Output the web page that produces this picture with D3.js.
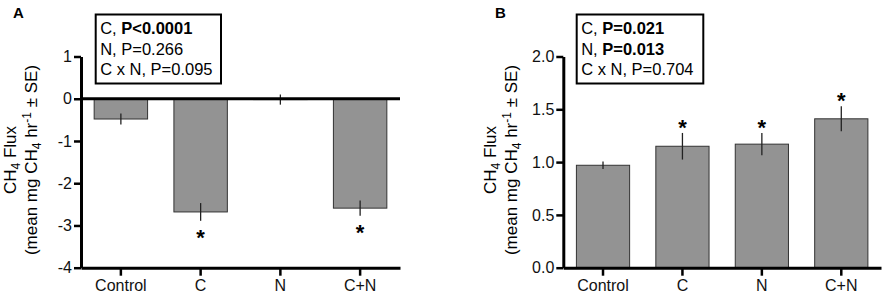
<!DOCTYPE html>
<html>
<head>
<meta charset="utf-8">
<script src="https://cdn.jsdelivr.net/npm/d3@7"></script>
<style>
  body { margin: 0; background: #fff; }
  svg { display: block; font-family: "Liberation Sans", Arial, sans-serif; }
</style>
</head>
<body>
<svg id="chart" width="885" height="296"></svg>
<script>
// treatments, shared by both panels
const groups = ["Control", "C", "N", "C+N"]

// panel A: soil CH4 flux
const fluxA = [-0.48, -2.68, -0.02, -2.59]
const seA = [0.13, 0.21, 0.12, 0.18]
const starA = [false, true, false, true]
const ticksA = [1, 0, -1, -2, -3, -4]
const statsA = [
    ["C, ", "P<0.0001"],
    ["N, P=0.266", ""],
    ["C x N, P=0.095", ""],
]

// panel B
const fluxB = [0.97, 1.15, 1.17, 1.41]
const seB = [0.036, 0.126, 0.106, 0.118]
const starB = [false, true, true, true]
const ticksB = [0, 0.5, 1.0, 1.5, 2.0]
const statsB = [
    ["C, ", "P=0.021"],
    ["N, ", "P=0.013"],
    ["C x N, P=0.704", ""],
]

const svg = d3.select('#chart')

const drawPanel = (opt) => {
    const g = svg.append('g')

    const rows = groups.map((name, i) => ({
        name, v: opt.values[i], se: opt.se[i], star: opt.stars[i]
    }))

    const x = d3.scaleBand()
        .domain(groups)
        .range([opt.left, opt.right])
        .paddingInner(0.33)
        .paddingOuter(0.165)

    const y = d3.scaleLinear()
        .domain(opt.domain)
        .range([267.7, 56.5])

    const cx = d => x(d.name) + x.bandwidth() / 2

    // bars
    g.selectAll('.bar')
        .data(rows)
        .join('rect')
        .attr('class', 'bar')
        .attr('x', d => x(d.name))
        .attr('width', x.bandwidth())
        .attr('y', d => Math.min(y(0), y(d.v)))
        .attr('height', d => Math.abs(y(d.v) - y(0)))
        .attr('fill', '#939393')
        .attr('stroke', '#333')
        .attr('stroke-width', 1)

    // error bars (+/- SE)
    g.selectAll('.err')
        .data(rows)
        .join('line')
        .attr('class', 'err')
        .attr('x1', cx)
        .attr('x2', cx)
        .attr('y1', d => y(d.v + d.se))
        .attr('y2', d => y(d.v - d.se))
        .attr('stroke', '#222')
        .attr('stroke-width', 1.3)

    // significance stars
    g.selectAll('.star')
        .data(rows.filter(d => d.star))
        .join('text')
        .attr('class', 'star')
        .attr('x', cx)
        .attr('y', d => {
            const mid = d.v < 0 ? y(d.v - d.se) + 11 : y(d.v + d.se) - 11
            return mid + 13
        })
        .attr('text-anchor', 'middle')
        .attr('font-size', '22px')
        .attr('font-weight', 'bold')
        .text('*')

    // y axis
    const yAxis = g.append('g')
        .attr('transform', `translate(${opt.left},0)`)
        .call(d3.axisLeft(y).tickValues(opt.ticks).tickFormat(opt.fmt)
            .tickSize(7).tickSizeOuter(0).tickPadding(2))
    yAxis.select('.domain').attr('stroke-width', 3)
    yAxis.selectAll('.tick line').attr('stroke-width', 2.5)
    yAxis.selectAll('.tick text').attr('font-size', '16px').attr('fill', '#111')
    yAxis.attr('font-family', null)

    // x axis at the bottom
    const xAxis = g.append('g')
        .attr('transform', `translate(0,${y(opt.domain[0])})`)
        .call(d3.axisBottom(x).tickSize(8).tickSizeOuter(0).tickPadding(4))
    xAxis.select('.domain').attr('stroke-width', 3)
    xAxis.selectAll('.tick line').attr('stroke-width', 2.5)
    xAxis.selectAll('.tick text').attr('font-size', '16px').attr('fill', '#111')
    xAxis.attr('font-family', null)

    // zero line when the axis goes below 0
    if (opt.domain[0] < 0) {
        g.append('line')
            .attr('x1', opt.left).attr('x2', opt.right)
            .attr('y1', y(0)).attr('y2', y(0))
            .attr('stroke', '#000')
            .attr('stroke-width', 3)
    }

    // y label, two lines
    const cy = 160
    const l1 = g.append('text')
        .attr('transform', `translate(${opt.labelX},${cy}) rotate(-90)`)
        .attr('text-anchor', 'middle')
        .attr('font-size', '17px')
    l1.append('tspan').text('CH')
    l1.append('tspan').attr('dy', 4).attr('font-size', '12px').text('4')
    l1.append('tspan').attr('dy', -4).text(' Flux')

    const l2 = g.append('text')
        .attr('transform', `translate(${opt.labelX + 21},${cy}) rotate(-90)`)
        .attr('text-anchor', 'middle')
        .attr('font-size', '17px')
    l2.append('tspan').text('(mean mg CH')
    l2.append('tspan').attr('dy', 4).attr('font-size', '12px').text('4')
    l2.append('tspan').attr('dy', -4).text(' hr')
    l2.append('tspan').attr('dy', -6).attr('font-size', '12px').text('-1')
    l2.append('tspan').attr('dy', 6).text(' \u00b1 SE)')

    // panel letter
    g.append('text')
        .attr('x', opt.letterX).attr('y', 17.5)
        .attr('font-size', '15px')
        .attr('font-weight', 'bold')
        .text(opt.letter)

    // stats box
    g.append('rect')
        .attr('x', opt.boxX).attr('y', 14.5)
        .attr('width', opt.boxW).attr('height', 69)
        .attr('fill', '#fff')
        .attr('stroke', '#000')
        .attr('stroke-width', 2)

    opt.stats.forEach((s, i) => {
        const t = g.append('text')
            .attr('x', opt.boxX + 4.5)
            .attr('y', 34.3 + i * 20.4)
            .attr('font-size', '16.5px')
        t.append('tspan').text(s[0])
        if (s[1]) t.append('tspan').attr('font-weight', 'bold').text(s[1])
    })
}

drawPanel({
    letter: 'A', letterX: 13,
    left: 81, right: 400,
    domain: [-4, 1], ticks: ticksA, fmt: d => String(d),
    values: fluxA, se: seA, stars: starA,
    labelX: 15.5,
    boxX: 95.7, boxW: 125.3, stats: statsA,
})

drawPanel({
    letter: 'B', letterX: 495,
    left: 563.3, right: 881,
    domain: [0, 2], ticks: ticksB, fmt: d => d.toFixed(1),
    values: fluxB, se: seB, stars: starB,
    labelX: 495.8,
    boxX: 576.7, boxW: 126.6, stats: statsB,
})
</script>
</body>
</html>
